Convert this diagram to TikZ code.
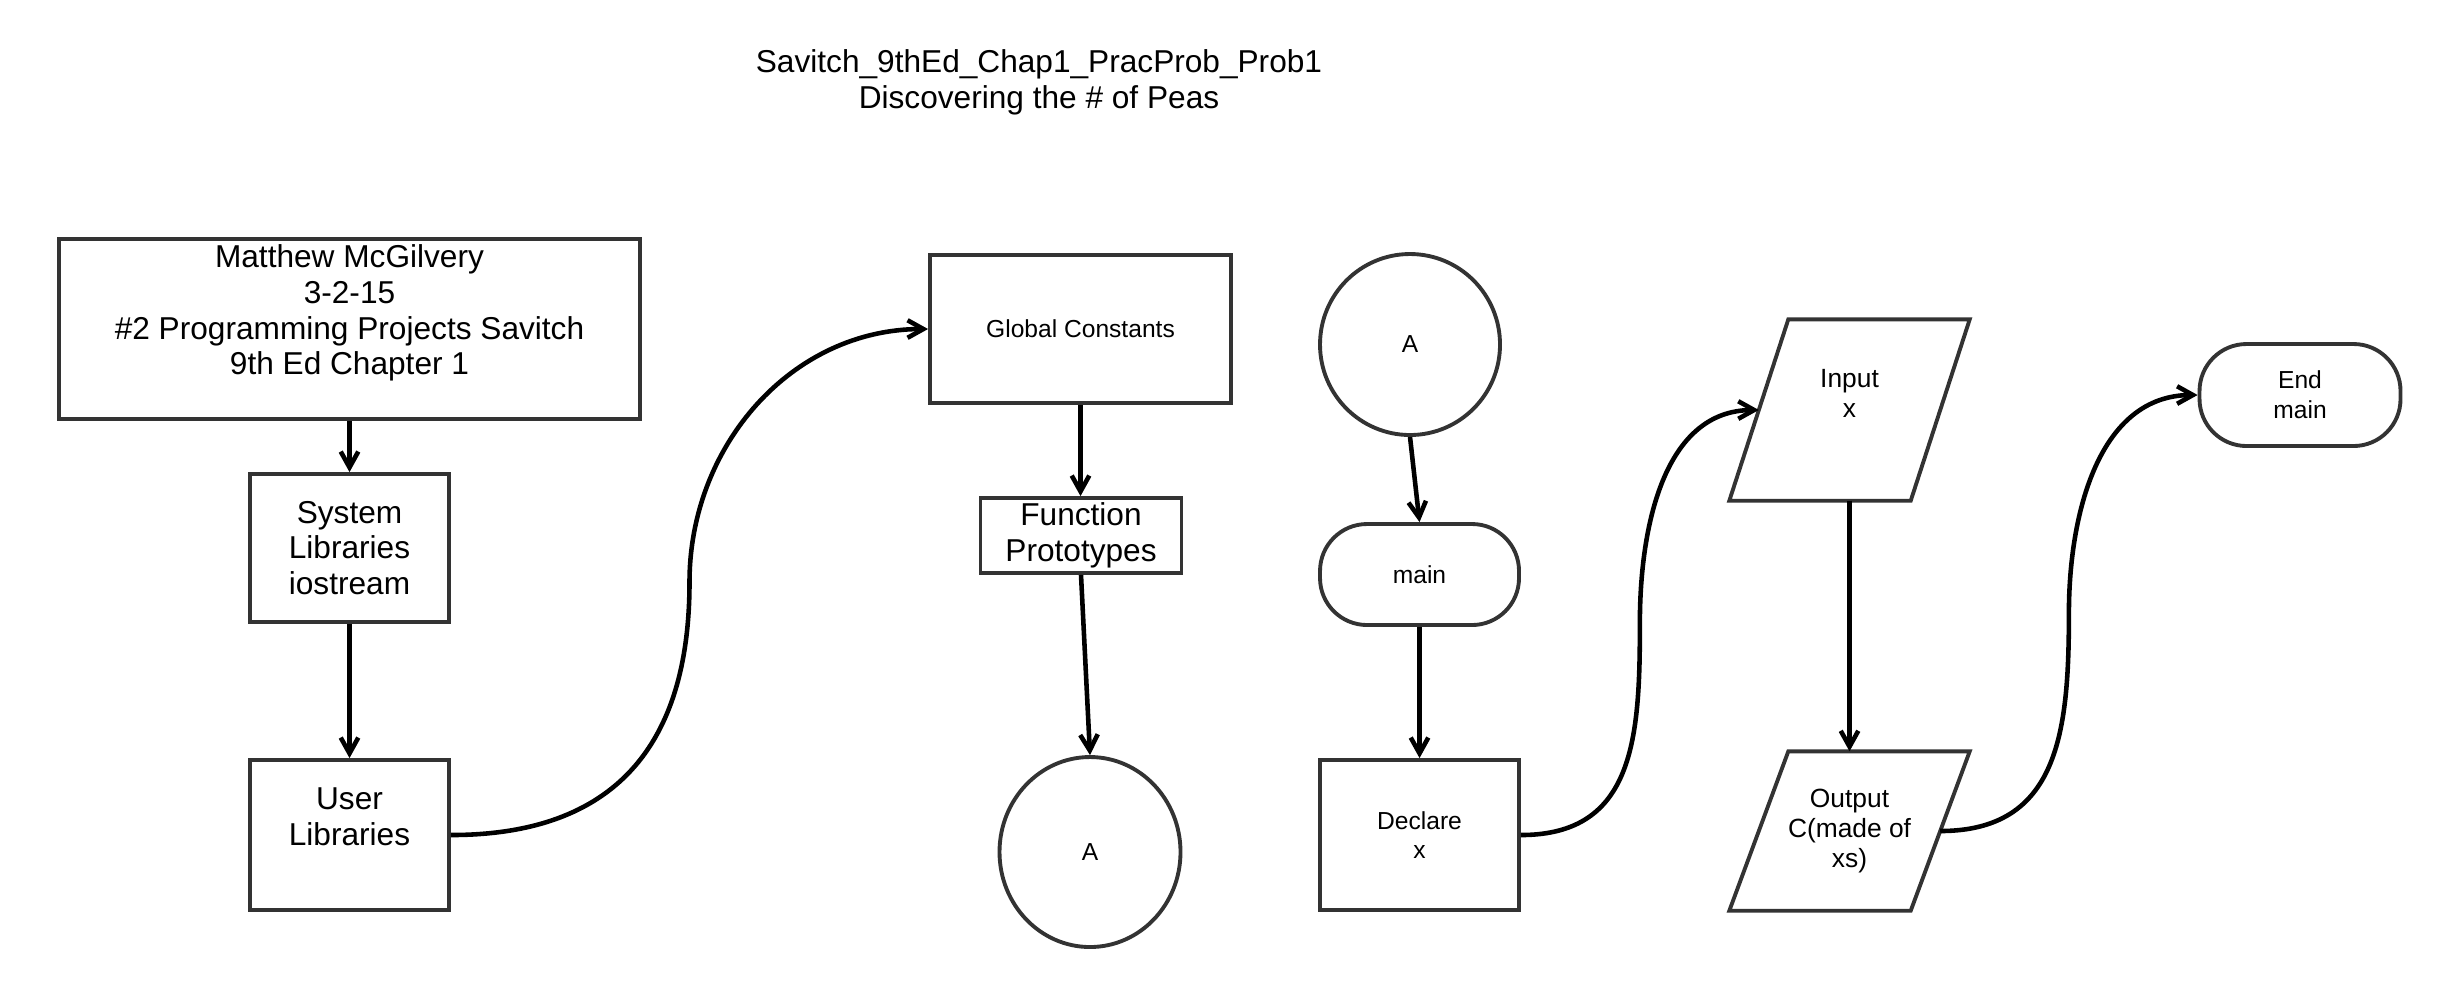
\documentclass[tikz,border=0pt]{standalone}
\usepackage{fontspec}
\setmainfont{Liberation Sans}
\usetikzlibrary{arrows.meta,calc,shapes.geometric}
\begin{document}
\begin{tikzpicture}[
  box/.style={draw=black!80, line width=1.1pt, rectangle, inner sep=0pt, align=center},
  term/.style={draw=black!80, line width=1.1pt, rectangle, rounded corners=0.47cm, inner sep=0pt, align=center},
  circ/.style={draw=black!80, line width=1.1pt, ellipse, inner sep=0pt, align=center},
  para/.style={inner sep=0pt, align=center},
  edgeline/.style={draw=black!80, line width=1.1pt, line join=miter},
  conn/.style={draw=black, line width=1.3pt, -{Straight Barb[length=4.5pt,width=5pt]}},
  fa/.style={font=\fontsize{9}{10.2}\selectfont},
  fb/.style={font=\fontsize{7}{8.5}\selectfont},
  fc/.style={font=\fontsize{7.5}{8.5}\selectfont},
]
\useasboundingbox (0,0) rectangle (24.52,-9.80);

% title
\node[fa, align=center] (title) at (10.39,-0.82) {Savitch\_9thEd\_Chap1\_PracProb\_Prob1\\Discovering the \# of Peas};

% left column
\node[box, minimum width=5.81cm, minimum height=1.80cm,
  label={[fa, align=center, yshift=0.16cm]center:Matthew McGilvery\\3-2-15\\\#2 Programming Projects Savitch\\9th Ed Chapter 1}] (auth) at (3.495,-3.29) {};
\node[box, fa, minimum width=1.99cm, minimum height=1.48cm] (sys) at (3.495,-5.48) {System\\Libraries\\iostream};
\node[box, minimum width=1.99cm, minimum height=1.50cm,
  label={[fa, align=center, yshift=0.18cm]center:User\\Libraries}] (ul) at (3.495,-8.35) {};

% second column
\node[box, fb, minimum width=3.01cm, minimum height=1.48cm] (gc) at (10.805,-3.29) {Global Constants};
\node[box, fa, minimum width=2.01cm, minimum height=0.75cm] (fp) at (10.81,-5.355) {Function\\Prototypes};
\node[circ, fb, minimum width=1.81cm, minimum height=1.90cm] (a1) at (10.90,-8.52) {A};

% third column
\node[circ, fb, minimum width=1.80cm, minimum height=1.81cm] (a2) at (14.10,-3.445) {A};
\node[term, fb, minimum width=1.99cm, minimum height=1.01cm] (main) at (14.195,-5.745) {main};
\node[box, fb, minimum width=1.99cm, minimum height=1.50cm] (dec) at (14.195,-8.35) {Declare\\x};

% fourth column (parallelograms)
\node[para, minimum width=2.39cm, minimum height=1.80cm,
  label={[fc, align=center, yshift=0.17cm]center:Input\\x}] (inp) at (18.495,-4.10) {};
\draw[edgeline] ($(inp.north west)+(0.59,0)$) -- (inp.north east) -- ($(inp.south east)+(-0.59,0)$) -- (inp.south west) -- cycle;
\node[para, fc, minimum width=2.39cm, minimum height=1.58cm] (outp) at (18.495,-8.31) {Output\\C(made of\\xs)};
\draw[edgeline] ($(outp.north west)+(0.59,0)$) -- (outp.north east) -- ($(outp.south east)+(-0.59,0)$) -- (outp.south west) -- cycle;

% end
\node[term, fb, minimum width=2.01cm, minimum height=1.02cm] (endm) at (23.00,-3.95) {End\\main};

% connectors
\draw[conn] (auth.south) -- (sys.north);
\draw[conn] (sys.south) -- (ul.north);
\draw[conn] (ul.east) to[out=0,in=-90,looseness=1.2] ($(ul.east)!0.5!(gc.west)$) to[out=90,in=180] (gc.west);
\draw[conn] (gc.south) -- (gc.south|-fp.north);
\draw[conn] (fp.south) -- (a1.north);
\draw[conn] (a2.south) -- (main.north);
\draw[conn] (main.south) -- (dec.north);
\draw[conn] (dec.east) to[out=0,in=-90,looseness=1.2] ($(dec.east)!0.5!($(inp.west)+(0.295,0)$)$) to[out=90,in=180] ($(inp.west)+(0.295,0)$);
\draw[conn] (inp.south) -- (outp.north);
\draw[conn] ($(outp.east)+(-0.295,0)$) to[out=0,in=-90,looseness=1.2] ($($(outp.east)+(-0.295,0)$)!0.5!(endm.west)$) to[out=90,in=180] (endm.west);
\end{tikzpicture}
\end{document}
